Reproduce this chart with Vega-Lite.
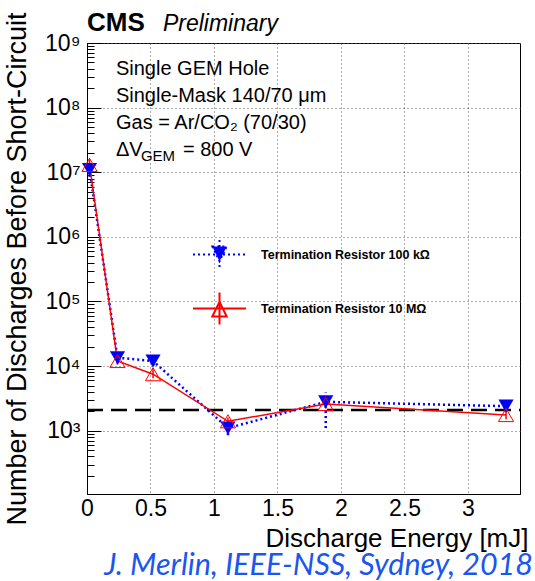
{
  "$schema": "https://vega.github.io/schema/vega-lite/v6.json",
  "width": 433,
  "height": 451,
  "autosize": "none",
  "padding": {"left": 87, "top": 43, "right": 15, "bottom": 87},
  "background": "white",
  "config": {
    "view": {"stroke": "black", "strokeWidth": 1},
    "font": "Liberation Sans"
  },
  "title": {
    "text": "J. Merlin, IEEE-NSS, Sydney, 2018",
    "orient": "bottom",
    "anchor": "end",
    "font": "Lato",
    "fontStyle": "italic",
    "fontWeight": "normal",
    "fontSize": 30.5,
    "color": "#1a56f0",
    "offset": 0,
    "dx": 5
  },
  "data": {
    "values": [
      {"series": "Termination Resistor 100 kΩ", "energy": 0.02, "count": 11000000, "lo": 8500000, "hi": 13000000},
      {"series": "Termination Resistor 100 kΩ", "energy": 0.24, "count": 13500, "lo": 11000, "hi": 16000},
      {"series": "Termination Resistor 100 kΩ", "energy": 0.52, "count": 12000, "lo": 10000, "hi": 14000},
      {"series": "Termination Resistor 100 kΩ", "energy": 1.11, "count": 1100, "lo": 850, "hi": 1350},
      {"series": "Termination Resistor 100 kΩ", "energy": 1.88, "count": 2800, "lo": 1100, "hi": 3900},
      {"series": "Termination Resistor 100 kΩ", "energy": 3.3, "count": 2400, "lo": 2100, "hi": 2700},
      {"series": "Termination Resistor 10 MΩ", "energy": 0.02, "count": 13000000, "lo": 10000000, "hi": 16000000},
      {"series": "Termination Resistor 10 MΩ", "energy": 0.24, "count": 12000, "lo": 10500, "hi": 14500},
      {"series": "Termination Resistor 10 MΩ", "energy": 0.52, "count": 7500, "lo": 6500, "hi": 9000},
      {"series": "Termination Resistor 10 MΩ", "energy": 1.11, "count": 1400, "lo": 1200, "hi": 1600},
      {"series": "Termination Resistor 10 MΩ", "energy": 1.88, "count": 2600, "lo": 2200, "hi": 3000},
      {"series": "Termination Resistor 10 MΩ", "energy": 3.3, "count": 1750, "lo": 1500, "hi": 2000}
    ]
  },
  "layer": [
    {
      "data": {"values": [{"k": 1}]},
      "mark": {"type": "rule", "color": "black", "strokeWidth": 2.5, "strokeDash": [16, 8]},
      "encoding": {
        "x": {"datum": 0, "type": "quantitative", "scale": {"domain": [0, 3.41], "nice": false, "zero": false}},
        "x2": {"datum": 3.41},
        "y": {"datum": 2100, "type": "quantitative", "scale": {"type": "log", "domain": [105, 1000000000], "nice": false}}
      }
    },
    {
      "transform": [{"filter": "indexof(datum.series, '100') >= 0"}],
      "mark": {"type": "rule", "color": "#0000ff", "strokeWidth": 2.5, "strokeDash": [2, 3]},
      "encoding": {
        "x": {"field": "energy", "type": "quantitative", "scale": {"domain": [0, 3.41], "nice": false, "zero": false}},
        "y": {"field": "lo", "type": "quantitative", "scale": {"type": "log", "domain": [105, 1000000000], "nice": false}},
        "y2": {"field": "hi"}
      }
    },
    {
      "transform": [{"filter": "indexof(datum.series, '100') < 0"}],
      "mark": {"type": "rule", "color": "#ff0000", "strokeWidth": 1.5},
      "encoding": {
        "x": {"field": "energy", "type": "quantitative", "scale": {"domain": [0, 3.41], "nice": false, "zero": false}},
        "y": {"field": "lo", "type": "quantitative", "scale": {"type": "log", "domain": [105, 1000000000], "nice": false}},
        "y2": {"field": "hi"}
      }
    },
    {
      "transform": [{"filter": "indexof(datum.series, '100') >= 0"}],
      "mark": {"type": "line", "color": "#0000ff", "strokeWidth": 2.5, "strokeDash": [2, 3]},
      "encoding": {
        "x": {
          "field": "energy",
          "type": "quantitative",
          "scale": {"domain": [0, 3.41], "nice": false, "zero": false},
          "axis": {
            "title": "Discharge Energy [mJ]",
            "titleFontSize": 26,
            "titleFontWeight": "normal",
            "titleFont": "Liberation Sans",
            "titleColor": "black",
            "titleX": 441,
            "titleY": 52,
            "titleAlign": "right",
            "titleAnchor": "end",
            "titleBaseline": "alphabetic",
            "values": [0, 0.5, 1, 1.5, 2, 2.5, 3],
            "labelExpr": "format(datum.value, '~g')",
            "labelFontSize": 23,
            "labelFont": "Liberation Sans",
            "labelColor": "black",
            "labelPadding": 3,
            "labelOverlap": false,
            "labelFlush": false,
            "tickSize": 0,
            "tickColor": "black",
            "tickWidth": 1,
            "domainColor": "black",
            "grid": true,
            "gridColor": "#555",
            "gridDash": [1, 3],
            "gridWidth": 1
          }
        },
        "y": {
          "field": "count",
          "type": "quantitative",
          "scale": {"type": "log", "domain": [105, 1000000000], "nice": false},
          "axis": {
            "title": "Number of Discharges Before Short-Circuit",
            "titleFontSize": 27,
            "titleFontWeight": "normal",
            "titleFont": "Liberation Sans",
            "titleColor": "black",
            "titlePadding": 13,
            "values": [200, 300, 400, 500, 600, 700, 800, 900, 1000, 2000, 3000, 4000, 5000, 6000, 7000, 8000, 9000, 10000, 20000, 30000, 40000, 50000, 60000, 70000, 80000, 90000, 100000, 200000, 300000, 400000, 500000, 600000, 700000, 800000, 900000, 1000000, 2000000, 3000000, 4000000, 5000000, 6000000, 7000000, 8000000, 9000000, 10000000, 20000000, 30000000, 40000000, 50000000, 60000000, 70000000, 80000000, 90000000, 100000000, 200000000, 300000000, 400000000, 500000000, 600000000, 700000000, 800000000, 900000000, 1000000000],
            "labelExpr": "abs(log(datum.value)/LN10 - round(log(datum.value)/LN10)) < 0.000001 ? '10' + ['⁰','¹','²','³','⁴','⁵','⁶','⁷','⁸','⁹'][round(log(datum.value)/LN10)] : ''",
            "labelFontSize": 23,
            "labelFont": "Liberation Sans",
            "labelColor": "black",
            "labelPadding": 21,
            "labelOverlap": false,
            "labelSeparation": -200,
            "labelFlush": false,
            "tickSize": {"condition": {"test": "abs(log(datum.value)/LN10 - round(log(datum.value)/LN10)) < 0.000001", "value": -14}, "value": -7},
            "tickColor": "black",
            "tickWidth": 1,
            "domainColor": "black",
            "grid": true,
            "gridColor": "#555",
            "gridDash": [1, 3],
            "gridWidth": 1,
            "gridOpacity": {"condition": {"test": "abs(log(datum.value)/LN10 - round(log(datum.value)/LN10)) < 0.000001", "value": 1}, "value": 0}
          }
        }
      }
    },
    {
      "transform": [{"filter": "indexof(datum.series, '100') < 0"}],
      "mark": {"type": "line", "color": "#ff0000", "strokeWidth": 1.5},
      "encoding": {
        "x": {"field": "energy", "type": "quantitative", "scale": {"domain": [0, 3.41], "nice": false, "zero": false}},
        "y": {"field": "count", "type": "quantitative", "scale": {"type": "log", "domain": [105, 1000000000], "nice": false}}
      }
    },
    {
      "transform": [{"filter": "indexof(datum.series, '100') >= 0"}],
      "mark": {"type": "point", "shape": "triangle-down", "filled": true, "color": "#0000ff", "size": 230, "opacity": 1},
      "encoding": {
        "x": {"field": "energy", "type": "quantitative", "scale": {"domain": [0, 3.41], "nice": false, "zero": false}},
        "y": {"field": "count", "type": "quantitative", "scale": {"type": "log", "domain": [105, 1000000000], "nice": false}}
      }
    },
    {
      "transform": [{"filter": "indexof(datum.series, '100') < 0"}],
      "mark": {"type": "point", "shape": "triangle-up", "filled": false, "color": "#ff0000", "size": 230, "strokeWidth": 1, "opacity": 1},
      "encoding": {
        "x": {"field": "energy", "type": "quantitative", "scale": {"domain": [0, 3.41], "nice": false, "zero": false}},
        "y": {"field": "count", "type": "quantitative", "scale": {"type": "log", "domain": [105, 1000000000], "nice": false}}
      }
    },
    {
      "mark": {"type": "point", "clip": true, "filled": true, "size": 2809, "strokeWidth": 2, "opacity": 1},
      "encoding": {
        "x": {"field": "energy", "type": "quantitative", "scale": {"domain": [0, 3.41], "nice": false, "zero": false}},
        "y": {"datum": 1, "type": "quantitative", "scale": {"type": "log", "domain": [105, 1000000000], "nice": false}},
        "shape": {
          "field": "series", "type": "nominal",
          "scale": {"domain": ["Termination Resistor 100 kΩ", "Termination Resistor 10 MΩ"], "range": ["M-1,0H1M-0.27,-0.3H0.27L0,0.25ZM0,-0.55V0.55", "M-1,0H1M-0.27,0.3H0.27L0,-0.25ZM0,-0.6V0.6"]},
          "legend": {"title": null, "orient": "none", "legendX": 105, "legendY": 184, "padding": 0, "rowPadding": 7, "symbolSize": 2809, "symbolStrokeWidth": 2, "labelFontSize": 12.5, "labelFont": "Liberation Sans", "labelFontWeight": "bold", "labelColor": "black", "labelOffset": 14, "labelLimit": 400}
        },
        "fill": {
          "field": "series", "type": "nominal",
          "scale": {"domain": ["Termination Resistor 100 kΩ", "Termination Resistor 10 MΩ"], "range": ["#0000ff", "transparent"]},
          "legend": {"title": null, "orient": "none", "legendX": 105, "legendY": 184, "padding": 0, "rowPadding": 7, "symbolSize": 2809, "symbolStrokeWidth": 2, "labelFontSize": 12.5, "labelFont": "Liberation Sans", "labelFontWeight": "bold", "labelColor": "black", "labelOffset": 14, "labelLimit": 400}
        },
        "stroke": {
          "field": "series", "type": "nominal",
          "scale": {"domain": ["Termination Resistor 100 kΩ", "Termination Resistor 10 MΩ"], "range": ["#0000ff", "#ff0000"]},
          "legend": {"title": null, "orient": "none", "legendX": 105, "legendY": 184, "padding": 0, "rowPadding": 7, "symbolSize": 2809, "symbolStrokeWidth": 2, "labelFontSize": 12.5, "labelFont": "Liberation Sans", "labelFontWeight": "bold", "labelColor": "black", "labelOffset": 14, "labelLimit": 400}
        },
        "strokeDash": {
          "field": "series", "type": "nominal",
          "scale": {"domain": ["Termination Resistor 100 kΩ", "Termination Resistor 10 MΩ"], "range": [[2, 3], [1, 0]]},
          "legend": {"title": null, "orient": "none", "legendX": 105, "legendY": 184, "padding": 0, "rowPadding": 7, "symbolSize": 2809, "symbolStrokeWidth": 2, "labelFontSize": 12.5, "labelFont": "Liberation Sans", "labelFontWeight": "bold", "labelColor": "black", "labelOffset": 14, "labelLimit": 400}
        }
      }
    },
    {
      "data": {"values": [{"k": 1}]},
      "mark": {"type": "text", "text": "CMS", "font": "Liberation Sans", "fontWeight": "bold", "fontSize": 26, "align": "left", "baseline": "alphabetic", "color": "black"},
      "encoding": {
        "x": {"datum": 0, "type": "quantitative", "scale": {"domain": [0, 3.41], "nice": false, "zero": false}},
        "y": {"datum": 1530000000, "type": "quantitative", "scale": {"type": "log", "domain": [105, 1000000000], "nice": false}}
      }
    },
    {
      "data": {"values": [{"k": 1}]},
      "mark": {"type": "text", "text": "Preliminary", "font": "Liberation Sans", "fontStyle": "italic", "fontSize": 23, "align": "left", "baseline": "alphabetic", "color": "black"},
      "encoding": {
        "x": {"datum": 0.598, "type": "quantitative", "scale": {"domain": [0, 3.41], "nice": false, "zero": false}},
        "y": {"datum": 1530000000, "type": "quantitative", "scale": {"type": "log", "domain": [105, 1000000000], "nice": false}}
      }
    },
    {
      "data": {"values": [{"k": 1}]},
      "mark": {"type": "text", "text": "Single GEM Hole", "font": "Liberation Sans", "fontSize": 20, "align": "left", "baseline": "alphabetic", "color": "black"},
      "encoding": {
        "x": {"datum": 0.228, "type": "quantitative", "scale": {"domain": [0, 3.41], "nice": false, "zero": false}},
        "y": {"datum": 320000000, "type": "quantitative", "scale": {"type": "log", "domain": [105, 1000000000], "nice": false}}
      }
    },
    {
      "data": {"values": [{"k": 1}]},
      "mark": {"type": "text", "text": "Single-Mask 140/70 μm", "font": "Liberation Sans", "fontSize": 20, "align": "left", "baseline": "alphabetic", "color": "black"},
      "encoding": {
        "x": {"datum": 0.228, "type": "quantitative", "scale": {"domain": [0, 3.41], "nice": false, "zero": false}},
        "y": {"datum": 122000000, "type": "quantitative", "scale": {"type": "log", "domain": [105, 1000000000], "nice": false}}
      }
    },
    {
      "data": {"values": [{"k": 1}]},
      "mark": {"type": "text", "text": "Gas = Ar/CO₂ (70/30)", "font": "Liberation Sans", "fontSize": 20, "align": "left", "baseline": "alphabetic", "color": "black"},
      "encoding": {
        "x": {"datum": 0.228, "type": "quantitative", "scale": {"domain": [0, 3.41], "nice": false, "zero": false}},
        "y": {"datum": 46700000, "type": "quantitative", "scale": {"type": "log", "domain": [105, 1000000000], "nice": false}}
      }
    },
    {
      "data": {"values": [{"k": 1}]},
      "mark": {"type": "text", "text": "ΔV", "font": "Liberation Sans", "fontSize": 20, "align": "left", "baseline": "alphabetic", "color": "black"},
      "encoding": {
        "x": {"datum": 0.228, "type": "quantitative", "scale": {"domain": [0, 3.41], "nice": false, "zero": false}},
        "y": {"datum": 17800000, "type": "quantitative", "scale": {"type": "log", "domain": [105, 1000000000], "nice": false}}
      }
    },
    {
      "data": {"values": [{"k": 1}]},
      "mark": {"type": "text", "text": "GEM", "font": "Liberation Sans", "fontSize": 15, "align": "left", "baseline": "alphabetic", "color": "black", "dx": 25, "dy": 5},
      "encoding": {
        "x": {"datum": 0.228, "type": "quantitative", "scale": {"domain": [0, 3.41], "nice": false, "zero": false}},
        "y": {"datum": 17800000, "type": "quantitative", "scale": {"type": "log", "domain": [105, 1000000000], "nice": false}}
      }
    },
    {
      "data": {"values": [{"k": 1}]},
      "mark": {"type": "text", "text": "= 800 V", "font": "Liberation Sans", "fontSize": 20, "align": "left", "baseline": "alphabetic", "color": "black", "dx": 67},
      "encoding": {
        "x": {"datum": 0.228, "type": "quantitative", "scale": {"domain": [0, 3.41], "nice": false, "zero": false}},
        "y": {"datum": 17800000, "type": "quantitative", "scale": {"type": "log", "domain": [105, 1000000000], "nice": false}}
      }
    }
  ]
}
